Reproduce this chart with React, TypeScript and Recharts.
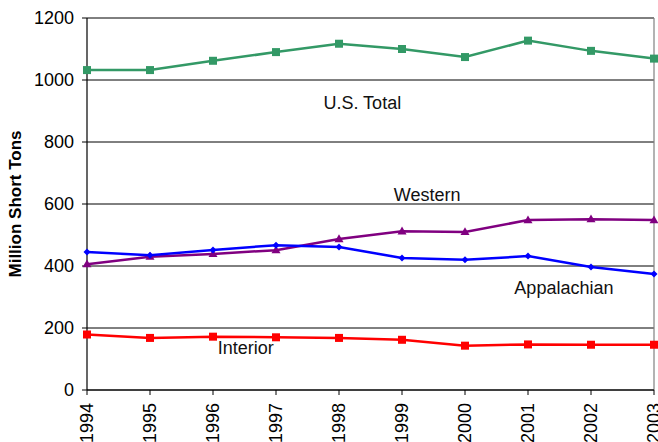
import React from "react";
import { LineChart, Line, XAxis, YAxis, CartesianGrid, ReferenceLine, ReferenceDot } from "recharts";

const years = [1994, 1995, 1996, 1997, 1998, 1999, 2000, 2001, 2002, 2003];
const usTotal = [1032, 1032, 1062, 1090, 1117, 1100, 1074, 1127, 1094, 1069];
const western = [406, 430, 439, 451, 487, 512, 510, 548, 551, 548];
const appalachian = [445, 435, 452, 467, 461, 426, 420, 432, 397, 374];
const interior = [179, 168, 172, 170, 168, 162, 143, 147, 146, 146];
const yTicks = [0, 200, 400, 600, 800, 1000, 1200];

const seriesLabels = [
  { text: "U.S. Total", x: 1998.37, y: 926 },
  { text: "Western", x: 1999.4, y: 629 },
  { text: "Appalachian", x: 2001.57, y: 329 },
  { text: "Interior", x: 1996.52, y: 135 },
];

const data = years.map((year, i) => ({
  year,
  usTotal: usTotal[i],
  western: western[i],
  appalachian: appalachian[i],
  interior: interior[i],
}));

const FONT = "'Liberation Sans', Arial, sans-serif";

const makeSquare = (color: string, s: number) => (props: any) => {
  const { cx, cy, index } = props;
  if (cx == null || cy == null) return <g key={index} />;
  return <rect key={index} x={cx - s / 2} y={cy - s / 2} width={s} height={s} fill={color} stroke="none" />;
};

const makeTriangle = (color: string, s: number) => (props: any) => {
  const { cx, cy, index } = props;
  if (cx == null || cy == null) return <g key={index} />;
  const h = s * 0.87;
  return (
    <polygon
      key={index}
      points={`${cx},${cy - h * 0.6} ${cx - s / 2},${cy + h * 0.4} ${cx + s / 2},${cy + h * 0.4}`}
      fill={color}
    />
  );
};

const makeDiamond = (color: string, s: number) => (props: any) => {
  const { cx, cy, index } = props;
  if (cx == null || cy == null) return <g key={index} />;
  const r = s / 2;
  return <polygon key={index} points={`${cx},${cy - r} ${cx + r},${cy} ${cx},${cy + r} ${cx - r},${cy}`} fill={color} />;
};

const XTick = (props: any) => {
  const { x, y, payload } = props;
  return (
    <text
      x={x}
      y={y}
      transform={`rotate(-90, ${x}, ${y})`}
      textAnchor="end"
      dominantBaseline="central"
      fontSize={18}
      fontFamily={FONT}
      fill="#000"
    >
      {payload.value}
    </text>
  );
};

const LabelText = (text: string) => (props: any) => {
  const { viewBox } = props;
  const cx = viewBox.x + (viewBox.width || 0) / 2;
  const cy = viewBox.y + (viewBox.height || 0) / 2;
  return (
    <text x={cx} y={cy} textAnchor="middle" dominantBaseline="central" fontSize={18} fontFamily={FONT} fill="#111">
      {text}
    </text>
  );
};

export default function App() {
  return (
    <div style={{ position: "absolute", left: 0, top: 0, background: "#fff" }}>
      <LineChart width={658} height={442} data={data} margin={{ top: 18, right: 4, bottom: 0, left: 0 }}>
        <CartesianGrid vertical={false} stroke="#000" strokeWidth={1} />
        <ReferenceLine y={1200} stroke="#808080" strokeWidth={1.2} />
        <ReferenceLine x={2003} stroke="#808080" strokeWidth={1.2} />
        <XAxis
          dataKey="year"
          type="number"
          domain={[1994, 2003]}
          ticks={years}
          interval={0}
          height={52}
          axisLine={{ stroke: "#000", strokeWidth: 1.2 }}
          tickLine={{ stroke: "#000" }}
          tickSize={5}
          tickMargin={8}
          tick={<XTick />}
        />
        <YAxis
          domain={[0, 1200]}
          ticks={yTicks}
          interval={0}
          width={87}
          axisLine={{ stroke: "#000", strokeWidth: 1.2 }}
          tickLine={{ stroke: "#000" }}
          tickSize={5}
          tickMargin={8}
          tick={{ fontSize: 18, fontFamily: FONT, fill: "#000" }}
          label={{
            value: "Million Short Tons",
            angle: -90,
            position: "insideLeft",
            offset: 0,
            dx: 15,
            style: { fontSize: 17, fontWeight: "bold", fontFamily: FONT, fill: "#000", textAnchor: "middle" },
          }}
        />
        <Line
          dataKey="usTotal"
          stroke="#339966"
          strokeWidth={2.5}
          isAnimationActive={false}
          dot={makeSquare("#339966", 8)}
        />
        <Line
          dataKey="western"
          stroke="#800080"
          strokeWidth={2.5}
          isAnimationActive={false}
          dot={makeTriangle("#800080", 9)}
        />
        <Line
          dataKey="appalachian"
          stroke="#0000FF"
          strokeWidth={2.5}
          isAnimationActive={false}
          dot={makeDiamond("#0000FF", 7)}
        />
        <Line
          dataKey="interior"
          stroke="#FF0000"
          strokeWidth={2.5}
          isAnimationActive={false}
          dot={makeSquare("#FF0000", 8)}
        />
        {seriesLabels.map((l) => (
          <ReferenceDot key={l.text} x={l.x} y={l.y} r={0} stroke="none" fill="none" label={LabelText(l.text)} />
        ))}
      </LineChart>
    </div>
  );
}
